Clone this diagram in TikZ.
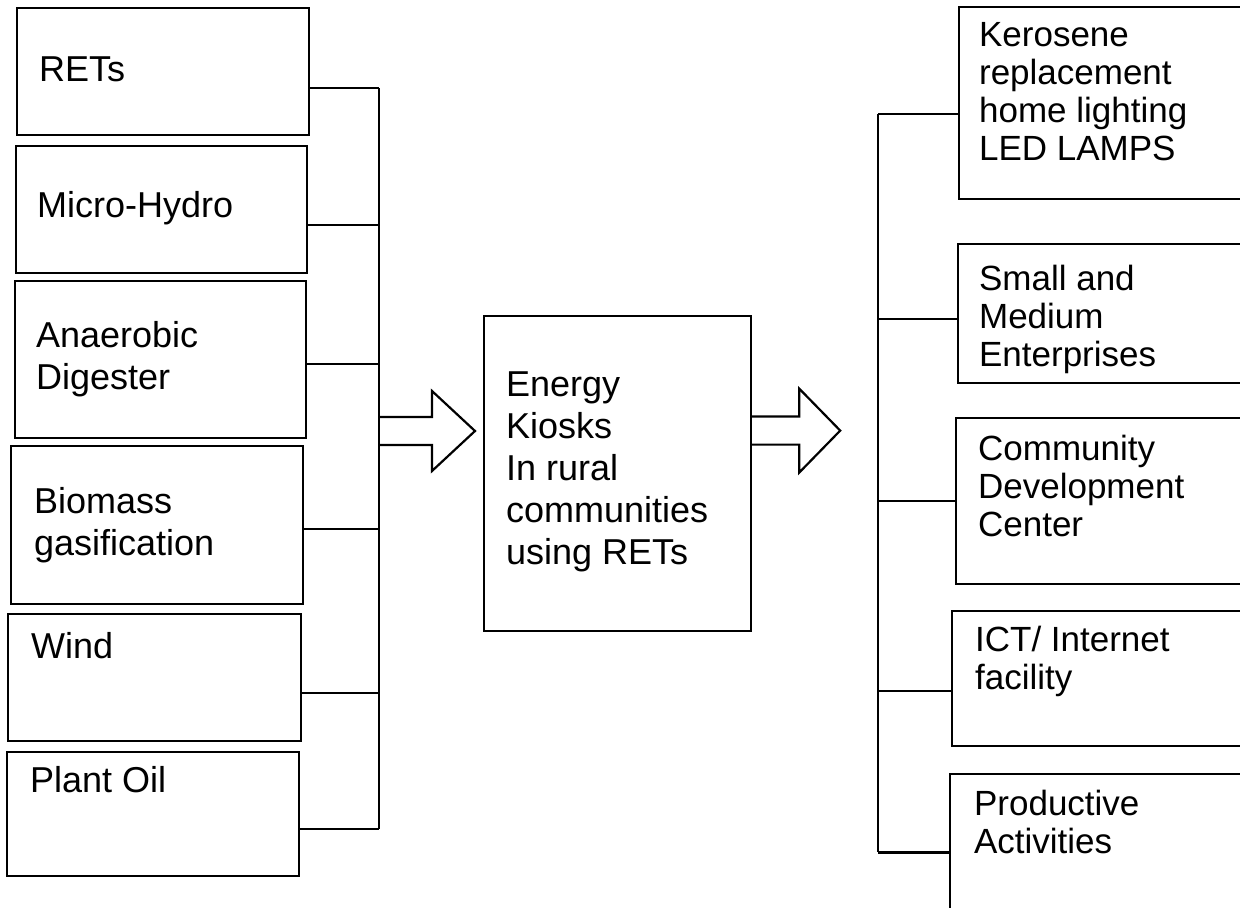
\documentclass[tikz,border=0pt]{standalone}
\usepackage{fontspec}
\setmainfont{Liberation Sans}
\usetikzlibrary{calc}

\begin{document}
\begin{tikzpicture}[x=0.5pt, y=-0.5pt, line width=1.1pt,
    box/.style={draw, rectangle, anchor=north west, inner sep=0pt},
    srctext/.style={anchor=base west, align=left, inner sep=0pt, font=\fontsize{18}{21}\selectfont},
    outtext/.style={anchor=base west, align=left, inner sep=0pt, font=\fontsize{17.5}{19}\selectfont},
    blockarrow/.style={draw, line join=miter}]
    \useasboundingbox (0,0) rectangle (1240,908);
    \clip (0,0) rectangle (1240,908);

    % Source boxes
    \node[box, minimum width=146pt, minimum height=63.5pt] (rets) at (16,7) {};
    \node[box, minimum width=145.5pt, minimum height=63.5pt] (hydro) at (15,145) {};
    \node[box, minimum width=145.5pt, minimum height=78.5pt] (digester) at (14,280) {};
    \node[box, minimum width=146pt, minimum height=79pt] (biomass) at (10,445) {};
    \node[box, minimum width=146.5pt, minimum height=63.5pt] (wind) at (7,613) {};
    \node[box, minimum width=146pt, minimum height=62pt] (plantoil) at (6,751) {};

    % (base of multi-line texts = last line)
    \node[srctext] (retsT) at (38,82) {RETs};
    \node[srctext] (hydroT) at (36,218) {Micro-Hydro};
    \node[srctext] (digesterT) at (35,390) {Anaerobic\\Digester};
    \node[srctext] (biomassT) at (33,555) {Biomass\\gasification};
    \node[srctext] (windT) at (30,658) {Wind};
    \node[srctext] (plantoilT) at (29,792) {Plant Oil};

    % Kiosk
    \node[box, minimum width=133.5pt, minimum height=157.5pt] (kiosk) at (483,315) {};
    \node[srctext] (kioskT) at (505,564) {Energy\\Kiosks\\In rural\\communities\\using RETs};

    % Outcome boxes
    \node[box, minimum width=151pt, minimum height=96pt] (kero) at (958,6) {};
    \node[box, minimum width=151.5pt, minimum height=69.5pt] (sme) at (957,243) {};
    \node[box, minimum width=152.5pt, minimum height=83pt] (cdc) at (955,417) {};
    \node[box, minimum width=154.5pt, minimum height=67.5pt] (ict) at (951,610) {};
    \node[box, minimum width=155.5pt, minimum height=80pt] (prod) at (949,773) {};

    \node[outtext] (keroT) at (978,161) {Kerosene\\replacement\\home lighting\\LED LAMPS};
    \node[outtext] (smeT) at (978,367) {Small and\\Medium\\Enterprises};
    \node[outtext] (cdcT) at (977,536) {Community\\Development\\Center};
    \node[outtext] (ictT) at (974,689) {ICT/ Internet\\facility};
    \node[outtext] (prodT) at (973,853) {Productive\\Activities};

    % Buses
    \coordinate (lbus) at (379,0);
    \coordinate (rbus) at (878,0);

    \draw ($(rets.north east)!.63!(rets.south east)$) coordinate (s1) -- (s1 -| lbus);
    \draw ($(hydro.north east)!.62!(hydro.south east)$) coordinate (s2) -- (s2 -| lbus);
    \draw ($(digester.north east)!.53!(digester.south east)$) coordinate (s3) -- (s3 -| lbus);
    \draw ($(biomass.north east)!.525!(biomass.south east)$) coordinate (s4) -- (s4 -| lbus);
    \draw ($(wind.north east)!.62!(wind.south east)$) coordinate (s5) -- (s5 -| lbus);
    \draw ($(plantoil.north east)!.62!(plantoil.south east)$) coordinate (s6) -- (s6 -| lbus);
    \draw (s1 -| lbus) -- (s6 -| lbus);

    \draw ($(kero.north west)!.557!(kero.south west)$) coordinate (t1) -- (t1 -| rbus);
    \draw ($(sme.north west)!.54!(sme.south west)$) coordinate (t2) -- (t2 -| rbus);
    \draw ($(cdc.north west)!.5!(cdc.south west)$) coordinate (t3) -- (t3 -| rbus);
    \draw ($(ict.north west)!.59!(ict.south west)$) coordinate (t4) -- (t4 -| rbus);
    \draw ($(prod.north west)!.49!(prod.south west)$) coordinate (t5) -- (t5 -| rbus);
    \draw (t1 -| rbus) -- (t5 -| rbus);

    % Block arrows
    \coordinate (lin) at (lbus |- 0,431);
    \draw[blockarrow] (lin) ++(0,-14) -- ++(53,0) -- ++(0,-26) -- ++(43,40)
        -- ++(-43,40) -- ++(0,-26) -- ++(-53,0);
    \draw[blockarrow] (kiosk.east) ++(0,-57) -- ++(47,0) -- ++(0,-28) -- ++(41,42)
        -- ++(-41,42) -- ++(0,-28) -- ++(-47,0);
\end{tikzpicture}
\end{document}
